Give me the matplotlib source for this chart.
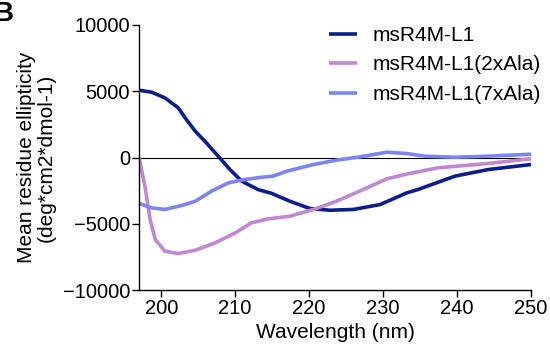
import matplotlib
matplotlib.use("Agg")
import matplotlib.pyplot as plt

plt.rcParams['font.family'] = ['Liberation Sans', 'DejaVu Sans']

# datos
wl_wt = [197, 198.7, 200.5, 202.3, 203.4, 204.6, 206.1, 207.7, 209.3, 210.9, 213.1, 214.9,
         217.4, 220.1, 222.8, 226, 229.6, 233.2, 234.7, 239.7, 244.2, 250]
el_wt = [5080, 4930, 4500, 3750, 2870, 1990, 1110, 100, -910, -1790, -2420, -2700,
         -3300, -3850, -3980, -3920, -3550, -2670, -2420, -1410, -910, -530]

wl_2x = [197, 197.8, 198.5, 199.2, 200.5, 202.3, 204.6, 207.3, 210, 212.2, 214.5,
         217.4, 220.6, 223.7, 227.3, 230.5, 233.2, 237.4, 244.2, 250]
el_2x = [0, -2160, -4680, -6190, -7070, -7250, -7000, -6440, -5690, -4930, -4630,
         -4430, -3920, -3300, -2420, -1610, -1250, -780, -450, -100]

wl_7x = [197, 198.7, 200.5, 202.8, 204.6, 206.8, 209.1, 211.3, 213.6, 215.1, 217,
         220.6, 223.7, 226.9, 230.5, 233.2, 235.6, 239.7, 244.2, 250]
el_7x = [-3470, -3800, -3920, -3620, -3300, -2540, -1910, -1660, -1490, -1410, -1030,
         -530, -200, 50, 400, 300, 100, 20, 100, 250]

labels = ["msR4M-L1", "msR4M-L1(2xAla)", "msR4M-L1(7xAla)"]
colores = ["#0b1e8c", "#c087d2", "#7d83f5"]

fig = plt.figure(figsize=(5.5, 3.47), dpi=100)
ax = fig.add_axes([139/550, 57/347, 392/550, 265/347])

ax.axhline(0, color="black", lw=0.8, zorder=1)
for x, y, lab, c in zip([wl_wt, wl_2x, wl_7x], [el_wt, el_2x, el_7x], labels, colores):
    ax.plot(x, y, color=c, lw=2.6, label=lab, solid_capstyle="butt",
            solid_joinstyle="round", zorder=2)

ax.set_xlim(197, 250)
ax.set_ylim(-10000, 10000)
ax.set_xticks([200, 210, 220, 230, 240, 250])
ax.set_yticks([-10000, -5000, 0, 5000, 10000])
ax.tick_params(labelsize=14.5, direction="out", length=5, width=1, pad=1.5, colors="black")
for s in ["top", "right"]:
    ax.spines[s].set_visible(False)
for s in ["left", "bottom"]:
    ax.spines[s].set_linewidth(1)

ax.set_xlabel("Wavelength (nm)", fontsize=15)
ax.xaxis.set_label_coords(0.5, -0.162)
ax.xaxis.label.set_va("center")
ax.set_ylabel("Mean residue ellipticity\n(deg*cm2*dmol-1)", fontsize=15, linespacing=1.05)
ax.yaxis.set_label_coords(-0.263, 0.5)
ax.yaxis.label.set_va("center")

ax.legend(loc="upper left", bbox_to_anchor=(329/550, 1 - 26/347), bbox_transform=fig.transFigure,
          frameon=False, fontsize=15, handlelength=1.35, handletextpad=0.72,
          labelspacing=0.5, borderpad=0, borderaxespad=0)

fig.text(13/550, 1 - 21/347, "B", fontsize=20, fontweight="bold", va="baseline", ha="right")

fig.savefig("out.png", dpi=100)
